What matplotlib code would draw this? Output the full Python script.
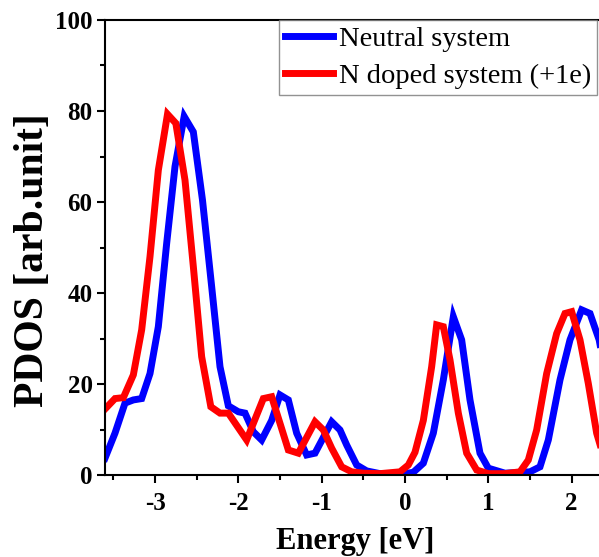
import matplotlib

matplotlib.use("Agg")
import matplotlib.pyplot as plt
from matplotlib.ticker import MultipleLocator

# values
neutral_energy = [-3.60, -3.48, -3.36, -3.26, -3.16, -3.06, -2.96, -2.86, -2.76, -2.65,
                  -2.54, -2.43, -2.32, -2.22, -2.12, -2.00, -1.92, -1.82, -1.72, -1.60,
                  -1.50, -1.40, -1.30, -1.18, -1.08, -0.88, -0.78, -0.70, -0.58, -0.46,
                  -0.30, 0.00, 0.10, 0.22, 0.34, 0.46, 0.58, 0.68, 0.78, 0.90,
                  1.00, 1.20, 1.50, 1.62, 1.72, 1.86, 1.98, 2.12, 2.22, 2.33, 2.45]
neutral_pdos = [3.7, 9.2, 15.8, 16.5, 16.8, 22.3, 32.6, 50.9, 67.8, 78.8,
                75.4, 60.4, 41.4, 23.8, 15.2, 13.9, 13.6, 9.5, 7.7, 12.0,
                17.6, 16.5, 9.2, 4.4, 4.8, 11.7, 9.9, 6.6, 2.2, 0.9,
                0.3, 0.3, 0.6, 2.6, 9.2, 20.9, 34.8, 29.7, 16.5, 4.8,
                1.5, 0.4, 0.7, 1.8, 7.7, 20.9, 29.7, 36.3, 35.5, 29.7, 18.0]

doped_energy = [-3.60, -3.48, -3.38, -3.26, -3.16, -3.06, -2.96, -2.85, -2.75, -2.64,
                -2.54, -2.44, -2.33, -2.22, -2.12, -1.90, -1.70, -1.60, -1.40, -1.28,
                -1.08, -0.98, -0.88, -0.76, -0.64, -0.50, -0.30, -0.06, 0.04, 0.12,
                0.22, 0.32, 0.38, 0.46, 0.54, 0.64, 0.74, 0.86, 1.00, 1.20,
                1.38, 1.48, 1.58, 1.70, 1.82, 1.92, 2.00, 2.10, 2.20, 2.30, 2.40]
doped_pdos = [14.5, 16.8, 17.0, 22.0, 31.9, 48.0, 67.0, 79.3, 77.3, 64.8,
              45.8, 26.0, 15.0, 13.6, 13.6, 7.7, 16.8, 17.2, 5.5, 4.8,
              11.7, 9.9, 5.9, 1.8, 0.7, 0.4, 0.3, 0.7, 2.2, 5.0,
              12.0, 23.8, 33.0, 32.6, 25.3, 13.6, 4.8, 1.1, 0.3, 0.3,
              0.7, 3.3, 9.9, 22.3, 31.1, 35.5, 35.9, 29.7, 20.1, 9.2, 3.0]

x_ticks = [-3, -2, -1, 0, 1, 2]
y_ticks = [0, 20, 40, 60, 80, 100]

SERIF = "Liberation Serif"


def main() -> None:
    plt.rcParams["font.family"] = SERIF
    fig = plt.figure(figsize=(5.99, 5.57), dpi=100)
    ax = fig.add_axes((0.1753, 0.1472, 0.8347, 0.8169))

    ax.plot(neutral_energy, neutral_pdos, color="#0000FF", lw=5,
            solid_joinstyle="miter", label="Neutral system")
    ax.plot(doped_energy, doped_pdos, color="#FF0000", lw=5,
            solid_joinstyle="miter", label="N doped system (+1e)")

    ax.set_xticks(x_ticks)
    ax.set_xticklabels([str(t) for t in x_ticks], fontweight="bold")
    ax.set_yticks(y_ticks)
    ax.set_yticklabels([str(t) for t in y_ticks], fontweight="bold")
    ax.xaxis.set_minor_locator(MultipleLocator(0.5))
    ax.yaxis.set_minor_locator(MultipleLocator(10))
    ax.set_xlim(-3.6, 2.4)
    ax.set_ylim(0, 100)

    ax.tick_params(which="major", direction="out", length=6, width=1.5, labelsize=18)
    ax.tick_params(axis="x", which="major", pad=6)
    ax.tick_params(axis="y", which="major", pad=3)
    ax.tick_params(which="minor", direction="out", length=3.5, width=1.5)

    for side in ("left", "bottom", "top"):
        ax.spines[side].set_linewidth(1.5)
    ax.spines["right"].set_visible(False)

    ax.set_xlabel("Energy [eV]", fontsize=22, fontweight="bold", labelpad=9)
    ax.set_ylabel("PDOS [arb.unit]", fontsize=30, fontweight="bold")
    ax.yaxis.set_label_coords(-0.106, 0.472)

    leg = fig.legend(loc="upper left", bbox_to_anchor=(279 / 599, 1 - 20 / 557),
                     fontsize=20.5, frameon=True, fancybox=False, borderpad=0.2,
                     borderaxespad=0, handlelength=1.7, handletextpad=0.2,
                     labelspacing=0.4)
    leg.get_frame().set_edgecolor("#777777")
    leg.get_frame().set_linewidth(1.0)

    fig.savefig("out.png", dpi=100)


if __name__ == "__main__":
    main()
